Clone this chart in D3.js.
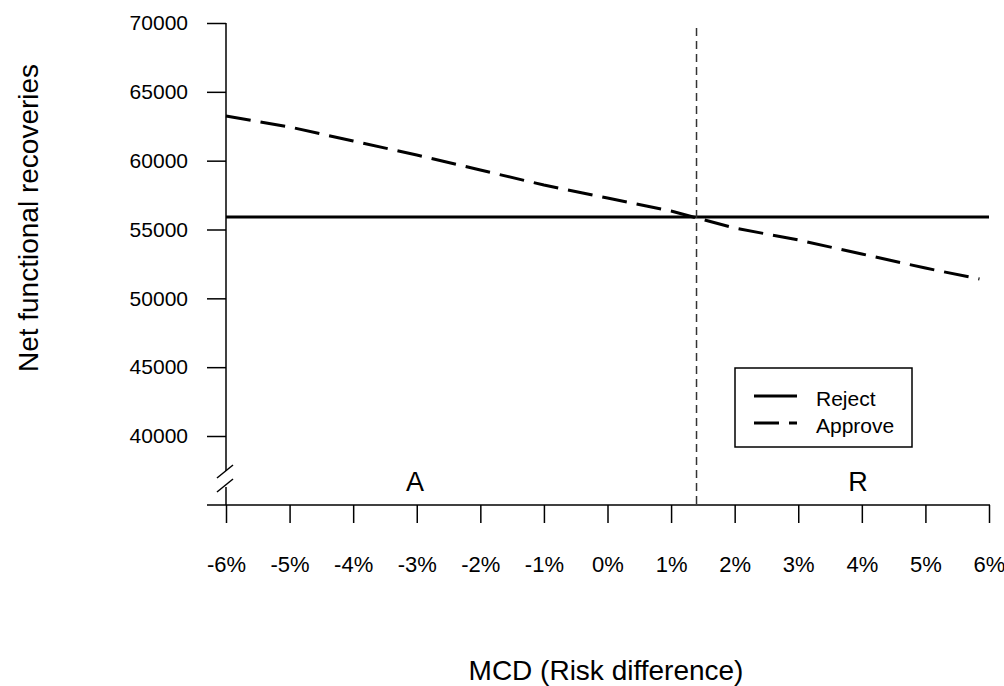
<!DOCTYPE html>
<html>
<head>
<meta charset="utf-8">
<script src="https://cdn.jsdelivr.net/npm/d3@7"></script>
<style>
  body { margin: 0; background: #fff; }
  svg { display: block; font-family: "Liberation Sans", Arial, sans-serif; }
</style>
</head>
<body>
<div id="chart"></div>
<script>
// data
var mcd = [-6, -5, -4, -3, -2, -1, 0, 1, 2, 3, 4, 5, 5.85];
var approve = [63250, 62450, 61430, 60410, 59320, 58230, 57290, 56340, 55110, 54240, 53220, 52200, 51400];
var reject = 55900;
var crossover = 1.4;
var xTicks = [-6, -5, -4, -3, -2, -1, 0, 1, 2, 3, 4, 5, 6];
var yTicks = [40000, 45000, 50000, 55000, 60000, 65000, 70000];
var legendLabels = ["Reject", "Approve"];

var width = 1004, height = 686;

var svg = d3.select("#chart").append("svg")
  .attr("width", width)
  .attr("height", height);

var x = d3.scaleLinear().domain([-6, 6]).range([226, 989]);
var y = d3.scaleLinear().domain([40000, 70000]).range([436, 23]);
var axisY = 505;

// y axis
var yAxis = svg.append("g")
  .attr("transform", "translate(" + x(-6) + ",0)")
  .call(d3.axisLeft(y).tickValues(yTicks).tickSize(19).tickPadding(19).tickFormat(d3.format("d")));
yAxis.select(".domain").remove();
yAxis.selectAll("line").attr("stroke", "#000").attr("stroke-width", 1.5);
yAxis.selectAll("text").attr("font-size", 21).attr("fill", "#000");

// y axis line with break
svg.append("line").attr("x1", x(-6)).attr("x2", x(-6)).attr("y1", y(70000)).attr("y2", 471)
  .attr("stroke", "#000").attr("stroke-width", 1.5);
svg.append("line").attr("x1", x(-6)).attr("x2", x(-6)).attr("y1", 487).attr("y2", axisY)
  .attr("stroke", "#000").attr("stroke-width", 1.5);
[478, 492].forEach(function(b) {
  svg.append("line").attr("x1", x(-6) - 9).attr("x2", x(-6) + 7).attr("y1", b).attr("y2", b - 13)
    .attr("stroke", "#000").attr("stroke-width", 1.5);
});

// x axis
var xAxis = svg.append("g")
  .attr("transform", "translate(0," + axisY + ")")
  .call(d3.axisBottom(x).tickValues(xTicks).tickSize(18).tickPadding(33).tickFormat(function(d) { return d + "%"; }));
xAxis.select(".domain").remove();
xAxis.selectAll("line").attr("stroke", "#000").attr("stroke-width", 1.5);
xAxis.selectAll("text").attr("font-size", 22).attr("fill", "#000");
svg.append("line").attr("x1", 207).attr("x2", 990).attr("y1", axisY).attr("y2", axisY)
  .attr("stroke", "#000").attr("stroke-width", 1.5);

// reject line
svg.append("line")
  .attr("x1", x(-6)).attr("x2", x(6))
  .attr("y1", y(reject)).attr("y2", y(reject))
  .attr("stroke", "#000").attr("stroke-width", 3);

// approve line
var line = d3.line().x(function(d, i) { return x(mcd[i]); }).y(function(d) { return y(d); });
svg.append("path")
  .datum(approve)
  .attr("d", line)
  .attr("fill", "none")
  .attr("stroke", "#000")
  .attr("stroke-width", 3)
  .attr("stroke-dasharray", "25,10");

// threshold line
svg.append("line")
  .attr("x1", x(crossover)).attr("x2", x(crossover))
  .attr("y1", 28).attr("y2", axisY)
  .attr("stroke", "#333").attr("stroke-width", 1.5)
  .attr("stroke-dasharray", "8,5");

// region labels
svg.append("text").attr("x", 415).attr("y", 491).attr("text-anchor", "middle")
  .attr("font-size", 27).text("A");
svg.append("text").attr("x", 858).attr("y", 491).attr("text-anchor", "middle")
  .attr("font-size", 27).text("R");

// legend
var legend = svg.append("g");
legend.append("rect").attr("x", 735).attr("y", 368).attr("width", 177).attr("height", 79)
  .attr("fill", "#fff").attr("stroke", "#000").attr("stroke-width", 1.5);
legendLabels.forEach(function(lab, i) {
  var ly = 396 + i * 27;
  legend.append("line").attr("x1", 754).attr("x2", 797).attr("y1", ly).attr("y2", ly)
    .attr("stroke", "#000").attr("stroke-width", 3)
    .attr("stroke-dasharray", i === 0 ? null : "25,10");
  legend.append("text").attr("x", 816).attr("y", ly + 3).attr("dy", "0.35em")
    .attr("font-size", 21).text(lab);
});

// axis titles
svg.append("text").attr("x", 606).attr("y", 670).attr("dy", "0.35em")
  .attr("text-anchor", "middle").attr("font-size", 28).text("MCD (Risk difference)");
svg.append("text")
  .attr("transform", "translate(28,218) rotate(-90)")
  .attr("dy", "0.35em")
  .attr("text-anchor", "middle").attr("font-size", 28).text("Net functional recoveries");
</script>
</body>
</html>
